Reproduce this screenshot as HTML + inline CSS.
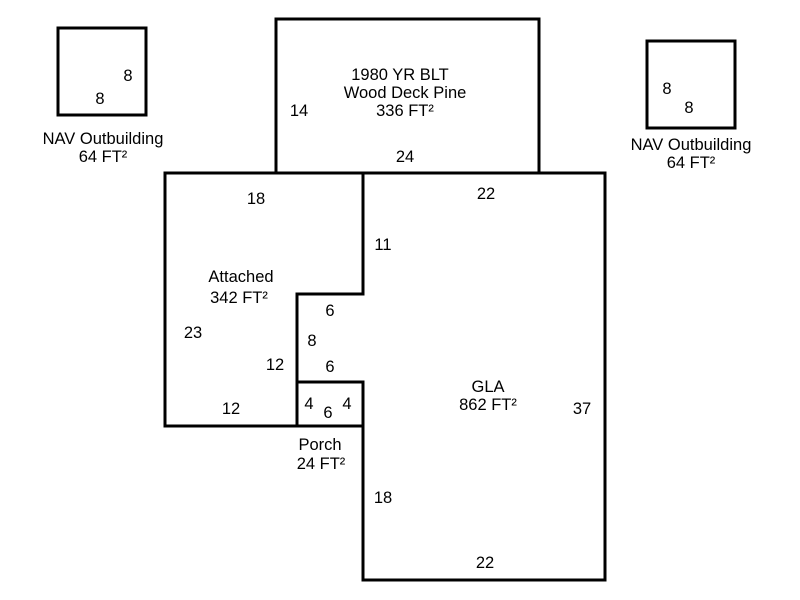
<!DOCTYPE html>
<html><head><style>html,body{margin:0;padding:0;background:#fff}svg{display:block}text{font-family:"Liberation Sans",Arial,sans-serif;font-size:16.5px;fill:#000;text-anchor:middle}</style></head>
<body>
<svg width="800" height="600" viewBox="0 0 800 600">
<g fill="none" stroke="#000" stroke-width="3" stroke-linejoin="miter">
<rect x="58" y="28" width="88" height="87"/>
<rect x="647" y="41" width="88" height="87"/>
<rect x="276" y="19" width="263" height="154"/>
<polygon points="165,173 363,173 363,294 297,294 297,426 165,426"/>
<polygon points="363,173 605,173 605,580 363,580 363,382 297,382 297,294 363,294"/>
<rect x="297" y="382" width="66" height="44"/>
</g>
<text x="128" y="81">8</text><text x="100" y="104">8</text>
<text x="103" y="144">NAV Outbuilding</text><text x="103" y="162">64 FT²</text>
<text x="667" y="94">8</text><text x="689" y="113">8</text>
<text x="691" y="150">NAV Outbuilding</text><text x="691" y="168">64 FT²</text>
<text x="400" y="80">1980 YR BLT</text><text x="405" y="98">Wood Deck Pine</text><text x="405" y="116">336 FT²</text>
<text x="299" y="116">14</text><text x="405" y="162">24</text>
<text x="256" y="204">18</text><text x="383" y="250">11</text>
<text x="241" y="282">Attached</text><text x="239" y="303">342 FT²</text>
<text x="193" y="338">23</text><text x="275" y="370">12</text><text x="231" y="414">12</text>
<text x="330" y="316">6</text><text x="312" y="346">8</text><text x="330" y="372">6</text>
<text x="309" y="409">4</text><text x="347" y="409">4</text><text x="328" y="418">6</text>
<text x="320" y="450">Porch</text><text x="321" y="469">24 FT²</text>
<text x="488" y="392">GLA</text><text x="488" y="410">862 FT²</text>
<text x="582" y="414">37</text><text x="486" y="199">22</text>
<text x="383" y="503">18</text><text x="485" y="568">22</text>
</svg>
</body></html>
